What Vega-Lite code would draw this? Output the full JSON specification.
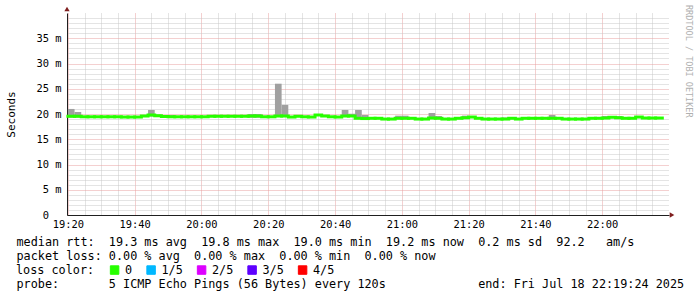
{
  "$schema": "https://vega.github.io/schema/vega-lite/v6.json",
  "autosize": {"type": "none"},
  "width": 602,
  "height": 202,
  "padding": {"left": 67, "top": 13, "right": 28, "bottom": 82},
  "background": "#ffffff",
  "config": {"view": {"stroke": null}},
  "title": {
    "text": "RRDTOOL / TOBI OETIKER",
    "orient": "right",
    "anchor": "start",
    "frame": "group",
    "font": "DejaVu Sans Mono",
    "fontSize": 8.5,
    "fontWeight": "normal",
    "color": "#b0b0b0",
    "offset": 1,
    "dx": -8
  },
  "data": {"values": [
    {"s": "2025-07-18T19:20", "e": "2025-07-18T19:22", "median": 19.55, "lo": 19.3, "hi": 21.0, "loss": "0"},
    {"s": "2025-07-18T19:22", "e": "2025-07-18T19:24", "median": 19.55, "lo": 19.3, "hi": 20.4, "loss": "0"},
    {"s": "2025-07-18T19:24", "e": "2025-07-18T19:26", "median": 19.45, "lo": 19.35, "hi": 19.55, "loss": "0"},
    {"s": "2025-07-18T19:26", "e": "2025-07-18T19:28", "median": 19.45, "lo": 19.35, "hi": 19.55, "loss": "0"},
    {"s": "2025-07-18T19:28", "e": "2025-07-18T19:30", "median": 19.45, "lo": 19.35, "hi": 19.55, "loss": "0"},
    {"s": "2025-07-18T19:30", "e": "2025-07-18T19:32", "median": 19.45, "lo": 19.35, "hi": 19.55, "loss": "0"},
    {"s": "2025-07-18T19:32", "e": "2025-07-18T19:34", "median": 19.45, "lo": 19.35, "hi": 19.55, "loss": "0"},
    {"s": "2025-07-18T19:34", "e": "2025-07-18T19:36", "median": 19.45, "lo": 19.35, "hi": 19.55, "loss": "0"},
    {"s": "2025-07-18T19:36", "e": "2025-07-18T19:38", "median": 19.4, "lo": 19.3, "hi": 19.5, "loss": "0"},
    {"s": "2025-07-18T19:38", "e": "2025-07-18T19:40", "median": 19.4, "lo": 19.3, "hi": 19.5, "loss": "0"},
    {"s": "2025-07-18T19:40", "e": "2025-07-18T19:42", "median": 19.4, "lo": 19.3, "hi": 19.5, "loss": "0"},
    {"s": "2025-07-18T19:42", "e": "2025-07-18T19:44", "median": 19.6, "lo": 19.5, "hi": 19.7, "loss": "0"},
    {"s": "2025-07-18T19:44", "e": "2025-07-18T19:46", "median": 19.8, "lo": 19.5, "hi": 20.8, "loss": "0"},
    {"s": "2025-07-18T19:46", "e": "2025-07-18T19:48", "median": 19.65, "lo": 19.5, "hi": 19.9, "loss": "0"},
    {"s": "2025-07-18T19:48", "e": "2025-07-18T19:50", "median": 19.5, "lo": 19.4, "hi": 19.6, "loss": "0"},
    {"s": "2025-07-18T19:50", "e": "2025-07-18T19:52", "median": 19.45, "lo": 19.35, "hi": 19.8, "loss": "0"},
    {"s": "2025-07-18T19:52", "e": "2025-07-18T19:54", "median": 19.45, "lo": 19.35, "hi": 19.55, "loss": "0"},
    {"s": "2025-07-18T19:54", "e": "2025-07-18T19:56", "median": 19.45, "lo": 19.35, "hi": 19.55, "loss": "0"},
    {"s": "2025-07-18T19:56", "e": "2025-07-18T19:58", "median": 19.45, "lo": 19.35, "hi": 19.55, "loss": "0"},
    {"s": "2025-07-18T19:58", "e": "2025-07-18T20:00", "median": 19.45, "lo": 19.35, "hi": 19.55, "loss": "0"},
    {"s": "2025-07-18T20:00", "e": "2025-07-18T20:02", "median": 19.45, "lo": 19.35, "hi": 19.55, "loss": "0"},
    {"s": "2025-07-18T20:02", "e": "2025-07-18T20:04", "median": 19.55, "lo": 19.45, "hi": 19.65, "loss": "0"},
    {"s": "2025-07-18T20:04", "e": "2025-07-18T20:06", "median": 19.55, "lo": 19.45, "hi": 19.65, "loss": "0"},
    {"s": "2025-07-18T20:06", "e": "2025-07-18T20:08", "median": 19.55, "lo": 19.45, "hi": 19.65, "loss": "0"},
    {"s": "2025-07-18T20:08", "e": "2025-07-18T20:10", "median": 19.55, "lo": 19.45, "hi": 19.65, "loss": "0"},
    {"s": "2025-07-18T20:10", "e": "2025-07-18T20:12", "median": 19.55, "lo": 19.45, "hi": 19.65, "loss": "0"},
    {"s": "2025-07-18T20:12", "e": "2025-07-18T20:14", "median": 19.55, "lo": 19.45, "hi": 19.65, "loss": "0"},
    {"s": "2025-07-18T20:14", "e": "2025-07-18T20:16", "median": 19.6, "lo": 19.25, "hi": 20.0, "loss": "0"},
    {"s": "2025-07-18T20:16", "e": "2025-07-18T20:18", "median": 19.6, "lo": 19.25, "hi": 20.0, "loss": "0"},
    {"s": "2025-07-18T20:18", "e": "2025-07-18T20:20", "median": 19.45, "lo": 19.35, "hi": 19.55, "loss": "0"},
    {"s": "2025-07-18T20:20", "e": "2025-07-18T20:22", "median": 19.45, "lo": 19.35, "hi": 19.55, "loss": "0"},
    {"s": "2025-07-18T20:22", "e": "2025-07-18T20:24", "median": 19.6, "lo": 19.5, "hi": 26.0, "loss": "0"},
    {"s": "2025-07-18T20:24", "e": "2025-07-18T20:26", "median": 19.6, "lo": 19.5, "hi": 21.8, "loss": "0"},
    {"s": "2025-07-18T20:26", "e": "2025-07-18T20:28", "median": 19.4, "lo": 19.3, "hi": 19.5, "loss": "0"},
    {"s": "2025-07-18T20:28", "e": "2025-07-18T20:30", "median": 19.55, "lo": 19.45, "hi": 19.65, "loss": "0"},
    {"s": "2025-07-18T20:30", "e": "2025-07-18T20:32", "median": 19.45, "lo": 19.35, "hi": 19.55, "loss": "0"},
    {"s": "2025-07-18T20:32", "e": "2025-07-18T20:34", "median": 19.4, "lo": 19.3, "hi": 19.5, "loss": "0"},
    {"s": "2025-07-18T20:34", "e": "2025-07-18T20:36", "median": 19.8, "lo": 19.7, "hi": 19.9, "loss": "0"},
    {"s": "2025-07-18T20:36", "e": "2025-07-18T20:38", "median": 19.6, "lo": 19.5, "hi": 19.7, "loss": "0"},
    {"s": "2025-07-18T20:38", "e": "2025-07-18T20:40", "median": 19.45, "lo": 19.35, "hi": 19.55, "loss": "0"},
    {"s": "2025-07-18T20:40", "e": "2025-07-18T20:42", "median": 19.4, "lo": 19.3, "hi": 19.5, "loss": "0"},
    {"s": "2025-07-18T20:42", "e": "2025-07-18T20:44", "median": 19.6, "lo": 19.5, "hi": 20.8, "loss": "0"},
    {"s": "2025-07-18T20:44", "e": "2025-07-18T20:46", "median": 19.6, "lo": 19.5, "hi": 20.05, "loss": "0"},
    {"s": "2025-07-18T20:46", "e": "2025-07-18T20:48", "median": 19.15, "lo": 19.05, "hi": 20.8, "loss": "0"},
    {"s": "2025-07-18T20:48", "e": "2025-07-18T20:50", "median": 19.1, "lo": 19.0, "hi": 19.8, "loss": "0"},
    {"s": "2025-07-18T20:50", "e": "2025-07-18T20:52", "median": 19.15, "lo": 19.05, "hi": 19.25, "loss": "0"},
    {"s": "2025-07-18T20:52", "e": "2025-07-18T20:54", "median": 19.15, "lo": 19.05, "hi": 19.25, "loss": "0"},
    {"s": "2025-07-18T20:54", "e": "2025-07-18T20:56", "median": 19.0, "lo": 18.9, "hi": 19.1, "loss": "0"},
    {"s": "2025-07-18T20:56", "e": "2025-07-18T20:58", "median": 19.0, "lo": 18.9, "hi": 19.1, "loss": "0"},
    {"s": "2025-07-18T20:58", "e": "2025-07-18T21:00", "median": 19.15, "lo": 19.05, "hi": 19.67, "loss": "0"},
    {"s": "2025-07-18T21:00", "e": "2025-07-18T21:02", "median": 19.15, "lo": 19.05, "hi": 19.67, "loss": "0"},
    {"s": "2025-07-18T21:02", "e": "2025-07-18T21:04", "median": 19.15, "lo": 19.05, "hi": 19.25, "loss": "0"},
    {"s": "2025-07-18T21:04", "e": "2025-07-18T21:06", "median": 19.0, "lo": 18.9, "hi": 19.1, "loss": "0"},
    {"s": "2025-07-18T21:06", "e": "2025-07-18T21:08", "median": 19.0, "lo": 18.9, "hi": 19.1, "loss": "0"},
    {"s": "2025-07-18T21:08", "e": "2025-07-18T21:10", "median": 19.2, "lo": 19.1, "hi": 20.2, "loss": "0"},
    {"s": "2025-07-18T21:10", "e": "2025-07-18T21:12", "median": 19.15, "lo": 19.05, "hi": 19.6, "loss": "0"},
    {"s": "2025-07-18T21:12", "e": "2025-07-18T21:14", "median": 19.0, "lo": 18.9, "hi": 19.1, "loss": "0"},
    {"s": "2025-07-18T21:14", "e": "2025-07-18T21:16", "median": 19.0, "lo": 18.9, "hi": 19.1, "loss": "0"},
    {"s": "2025-07-18T21:16", "e": "2025-07-18T21:18", "median": 19.15, "lo": 19.05, "hi": 19.25, "loss": "0"},
    {"s": "2025-07-18T21:18", "e": "2025-07-18T21:20", "median": 19.25, "lo": 19.15, "hi": 19.67, "loss": "0"},
    {"s": "2025-07-18T21:20", "e": "2025-07-18T21:22", "median": 19.4, "lo": 19.3, "hi": 19.5, "loss": "0"},
    {"s": "2025-07-18T21:22", "e": "2025-07-18T21:24", "median": 19.15, "lo": 19.05, "hi": 19.25, "loss": "0"},
    {"s": "2025-07-18T21:24", "e": "2025-07-18T21:26", "median": 19.0, "lo": 18.9, "hi": 19.1, "loss": "0"},
    {"s": "2025-07-18T21:26", "e": "2025-07-18T21:28", "median": 19.0, "lo": 18.9, "hi": 19.1, "loss": "0"},
    {"s": "2025-07-18T21:28", "e": "2025-07-18T21:30", "median": 19.0, "lo": 18.9, "hi": 19.1, "loss": "0"},
    {"s": "2025-07-18T21:30", "e": "2025-07-18T21:32", "median": 19.0, "lo": 18.9, "hi": 19.3, "loss": "0"},
    {"s": "2025-07-18T21:32", "e": "2025-07-18T21:34", "median": 19.15, "lo": 19.05, "hi": 19.25, "loss": "0"},
    {"s": "2025-07-18T21:34", "e": "2025-07-18T21:36", "median": 19.0, "lo": 18.9, "hi": 19.1, "loss": "0"},
    {"s": "2025-07-18T21:36", "e": "2025-07-18T21:38", "median": 19.15, "lo": 19.05, "hi": 19.25, "loss": "0"},
    {"s": "2025-07-18T21:38", "e": "2025-07-18T21:40", "median": 19.15, "lo": 19.05, "hi": 19.25, "loss": "0"},
    {"s": "2025-07-18T21:40", "e": "2025-07-18T21:42", "median": 19.15, "lo": 19.05, "hi": 19.25, "loss": "0"},
    {"s": "2025-07-18T21:42", "e": "2025-07-18T21:44", "median": 19.15, "lo": 19.05, "hi": 19.3, "loss": "0"},
    {"s": "2025-07-18T21:44", "e": "2025-07-18T21:46", "median": 19.15, "lo": 19.05, "hi": 19.8, "loss": "0"},
    {"s": "2025-07-18T21:46", "e": "2025-07-18T21:48", "median": 19.15, "lo": 19.05, "hi": 19.25, "loss": "0"},
    {"s": "2025-07-18T21:48", "e": "2025-07-18T21:50", "median": 19.0, "lo": 18.9, "hi": 19.1, "loss": "0"},
    {"s": "2025-07-18T21:50", "e": "2025-07-18T21:52", "median": 19.0, "lo": 18.9, "hi": 19.1, "loss": "0"},
    {"s": "2025-07-18T21:52", "e": "2025-07-18T21:54", "median": 19.0, "lo": 18.9, "hi": 19.1, "loss": "0"},
    {"s": "2025-07-18T21:54", "e": "2025-07-18T21:56", "median": 19.0, "lo": 18.9, "hi": 19.1, "loss": "0"},
    {"s": "2025-07-18T21:56", "e": "2025-07-18T21:58", "median": 19.15, "lo": 19.05, "hi": 19.25, "loss": "0"},
    {"s": "2025-07-18T21:58", "e": "2025-07-18T22:00", "median": 19.15, "lo": 19.05, "hi": 19.25, "loss": "0"},
    {"s": "2025-07-18T22:00", "e": "2025-07-18T22:02", "median": 19.2, "lo": 19.1, "hi": 19.6, "loss": "0"},
    {"s": "2025-07-18T22:02", "e": "2025-07-18T22:04", "median": 19.35, "lo": 19.25, "hi": 19.6, "loss": "0"},
    {"s": "2025-07-18T22:04", "e": "2025-07-18T22:06", "median": 19.25, "lo": 19.15, "hi": 19.6, "loss": "0"},
    {"s": "2025-07-18T22:06", "e": "2025-07-18T22:08", "median": 19.15, "lo": 19.05, "hi": 19.25, "loss": "0"},
    {"s": "2025-07-18T22:08", "e": "2025-07-18T22:10", "median": 19.15, "lo": 19.05, "hi": 19.25, "loss": "0"},
    {"s": "2025-07-18T22:10", "e": "2025-07-18T22:12", "median": 19.4, "lo": 19.3, "hi": 19.5, "loss": "0"},
    {"s": "2025-07-18T22:12", "e": "2025-07-18T22:14", "median": 19.2, "lo": 19.1, "hi": 19.3, "loss": "0"},
    {"s": "2025-07-18T22:14", "e": "2025-07-18T22:16", "median": 19.2, "lo": 19.1, "hi": 19.3, "loss": "0"},
    {"s": "2025-07-18T22:16", "e": "2025-07-18T22:18", "median": 19.2, "lo": 19.1, "hi": 19.3, "loss": "0"}
  ]},
  "layer": [
    {
      "mark": {"type": "rect", "color": "#a0a0a0"},
      "encoding": {
        "x": {
          "field": "s", "type": "temporal",
          "scale": {"domain": [
            {"year": 2025, "month": 7, "date": 18, "hours": 19, "minutes": 19, "seconds": 44},
            {"year": 2025, "month": 7, "date": 18, "hours": 22, "minutes": 20, "seconds": 0}
          ], "nice": false},
          "axis": {
            "values": [
              {"year": 2025, "month": 7, "date": 18, "hours": 19, "minutes": 20},
              {"year": 2025, "month": 7, "date": 18, "hours": 19, "minutes": 25},
              {"year": 2025, "month": 7, "date": 18, "hours": 19, "minutes": 30},
              {"year": 2025, "month": 7, "date": 18, "hours": 19, "minutes": 35},
              {"year": 2025, "month": 7, "date": 18, "hours": 19, "minutes": 40},
              {"year": 2025, "month": 7, "date": 18, "hours": 19, "minutes": 45},
              {"year": 2025, "month": 7, "date": 18, "hours": 19, "minutes": 50},
              {"year": 2025, "month": 7, "date": 18, "hours": 19, "minutes": 55},
              {"year": 2025, "month": 7, "date": 18, "hours": 20, "minutes": 0},
              {"year": 2025, "month": 7, "date": 18, "hours": 20, "minutes": 5},
              {"year": 2025, "month": 7, "date": 18, "hours": 20, "minutes": 10},
              {"year": 2025, "month": 7, "date": 18, "hours": 20, "minutes": 15},
              {"year": 2025, "month": 7, "date": 18, "hours": 20, "minutes": 20},
              {"year": 2025, "month": 7, "date": 18, "hours": 20, "minutes": 25},
              {"year": 2025, "month": 7, "date": 18, "hours": 20, "minutes": 30},
              {"year": 2025, "month": 7, "date": 18, "hours": 20, "minutes": 35},
              {"year": 2025, "month": 7, "date": 18, "hours": 20, "minutes": 40},
              {"year": 2025, "month": 7, "date": 18, "hours": 20, "minutes": 45},
              {"year": 2025, "month": 7, "date": 18, "hours": 20, "minutes": 50},
              {"year": 2025, "month": 7, "date": 18, "hours": 20, "minutes": 55},
              {"year": 2025, "month": 7, "date": 18, "hours": 21, "minutes": 0},
              {"year": 2025, "month": 7, "date": 18, "hours": 21, "minutes": 5},
              {"year": 2025, "month": 7, "date": 18, "hours": 21, "minutes": 10},
              {"year": 2025, "month": 7, "date": 18, "hours": 21, "minutes": 15},
              {"year": 2025, "month": 7, "date": 18, "hours": 21, "minutes": 20},
              {"year": 2025, "month": 7, "date": 18, "hours": 21, "minutes": 25},
              {"year": 2025, "month": 7, "date": 18, "hours": 21, "minutes": 30},
              {"year": 2025, "month": 7, "date": 18, "hours": 21, "minutes": 35},
              {"year": 2025, "month": 7, "date": 18, "hours": 21, "minutes": 40},
              {"year": 2025, "month": 7, "date": 18, "hours": 21, "minutes": 45},
              {"year": 2025, "month": 7, "date": 18, "hours": 21, "minutes": 50},
              {"year": 2025, "month": 7, "date": 18, "hours": 21, "minutes": 55},
              {"year": 2025, "month": 7, "date": 18, "hours": 22, "minutes": 0},
              {"year": 2025, "month": 7, "date": 18, "hours": 22, "minutes": 5},
              {"year": 2025, "month": 7, "date": 18, "hours": 22, "minutes": 10},
              {"year": 2025, "month": 7, "date": 18, "hours": 22, "minutes": 15}
            ],
            "tickCount": 500,
            "labelExpr": "minutes(datum.value) % 20 === 0 ? timeFormat(datum.value, '%H:%M') : ''",
            "labelOverlap": false,
            "labelFlush": false,
            "labelFont": "DejaVu Sans Mono",
            "labelFontSize": 10.4,
            "labelColor": "#000000",
            "labelPadding": 4,
            "ticks": false,
            "tickSize": 0,
            "domainColor": "#1f1f1f",
            "domainWidth": 1,
            "grid": true,
            "gridDash": [1, 1],
            "gridWidth": 1,
            "gridColor": {"condition": {"test": "minutes(datum.value) % 20 === 0", "value": "#e8a0a0"}, "value": "#c8c8c8"},
            "title": [
              "median rtt:\u00a0\u00a019.3 ms avg\u00a0\u00a019.8 ms max\u00a0\u00a019.0 ms min\u00a0\u00a019.2 ms now\u00a0\u00a00.2 ms sd\u00a0\u00a092.2\u00a0\u00a0\u00a0am/s",
              "packet loss:\u00a00.00 % avg\u00a0\u00a00.00 % max\u00a0\u00a00.00 % min\u00a0\u00a00.00 % now",
              "\u200b",
              "probe:\u00a0\u00a0\u00a0\u00a0\u00a0\u00a0\u00a05 ICMP Echo Pings (56 Bytes) every 120s\u00a0\u00a0\u00a0\u00a0\u00a0\u00a0\u00a0\u00a0\u00a0\u00a0\u00a0\u00a0\u00a0end: Fri Jul 18 22:19:24 2025"
            ],
            "titleX": -51,
            "titleY": 30,
            "titleAlign": "left",
            "titleAnchor": "start",
            "titleBaseline": "alphabetic",
            "titleAngle": 0,
            "titleFont": "DejaVu Sans Mono",
            "titleFontSize": 11.8,
            "titleFontWeight": "normal",
            "titleColor": "#000000",
            "titleLineHeight": 14
          }
        },
        "x2": {"field": "e"},
        "y": {
          "field": "lo", "type": "quantitative",
          "scale": {"domain": [0, 40], "nice": false, "zero": true},
          "axis": {
            "values": [0,1,2,3,4,5,6,7,8,9,10,11,12,13,14,15,16,17,18,19,20,21,22,23,24,25,26,27,28,29,30,31,32,33,34,35,36,37,38,39],
            "tickCount": 500,
            "labelExpr": "datum.value === 0 ? '0\u00a0\u00a0\u200b' : (datum.value % 5 === 0 ? datum.value + ' m' : '')",
            "labelOverlap": false,
            "labelFont": "DejaVu Sans Mono",
            "labelFontSize": 10.4,
            "labelColor": "#000000",
            "labelPadding": 6,
            "ticks": false,
            "tickSize": 0,
            "domainColor": "#1f1f1f",
            "domainWidth": 1,
            "grid": true,
            "gridDash": [1, 1],
            "gridWidth": 1,
            "gridColor": {"condition": {"test": "datum.value % 5 === 0", "value": "#e8a0a0"}, "value": "#c8c8c8"},
            "title": "Seconds",
            "titleFont": "DejaVu Sans Mono",
            "titleFontSize": 11,
            "titleFontWeight": "normal",
            "titleColor": "#000000",
            "titleX": -56,
            "titleY": 101,
            "titleAngle": -90,
            "titleAlign": "center",
            "titleBaseline": "middle"
          }
        },
        "y2": {"field": "hi"}
      }
    },
    {
      "mark": {"type": "rule", "strokeWidth": 3, "strokeCap": "square"},
      "encoding": {
        "x": {"field": "s", "type": "temporal"},
        "x2": {"field": "e"},
        "y": {"field": "median", "type": "quantitative"},
        "color": {
          "field": "loss", "type": "nominal",
          "scale": {"domain": ["0", "1/5", "2/5", "3/5", "4/5"], "range": ["#26ff00", "#00b8ff", "#dd00ff", "#5e00ff", "#ff0000"]},
          "legend": {
            "orient": "none",
            "legendX": -51,
            "legendY": 251,
            "direction": "horizontal",
            "title": "loss color:",
            "titleOrient": "left",
            "titleFont": "DejaVu Sans Mono",
            "titleFontSize": 11.8,
            "titleFontWeight": "normal",
            "titleColor": "#000000",
            "titlePadding": 13.7,
            "labelFont": "DejaVu Sans Mono",
            "labelFontSize": 11.8,
            "labelColor": "#000000",
            "labelOffset": 4.5,
            "columnPadding": 11.5,
            "padding": 0,
            "symbolType": "square",
            "symbolSize": 72,
            "symbolStrokeWidth": 1,
            "encode": {"symbols": {"update": {
              "fill": {"scale": "color", "field": "value"},
              "stroke": {"value": "#000000"},
              "strokeWidth": {"value": 1},
              "opacity": {"value": 1},
              "fillOpacity": {"value": 1}
            }}}
          }
        }
      }
    },
    {
      "data": {"values": [{}]},
      "mark": {"type": "point", "shape": "triangle-right", "filled": true, "size": 28, "color": "#7f1f1f", "xOffset": 3, "opacity": 1},
      "encoding": {
        "x": {"datum": {"year": 2025, "month": 7, "date": 18, "hours": 22, "minutes": 20, "seconds": 0}, "type": "temporal"},
        "y": {"datum": 0, "type": "quantitative"}
      }
    },
    {
      "data": {"values": [{}]},
      "mark": {"type": "point", "shape": "triangle-up", "filled": true, "size": 28, "color": "#7f1f1f", "yOffset": -4, "opacity": 1},
      "encoding": {
        "x": {"datum": {"year": 2025, "month": 7, "date": 18, "hours": 19, "minutes": 19, "seconds": 44}, "type": "temporal"},
        "y": {"datum": 40, "type": "quantitative"}
      }
    }
  ]
}
